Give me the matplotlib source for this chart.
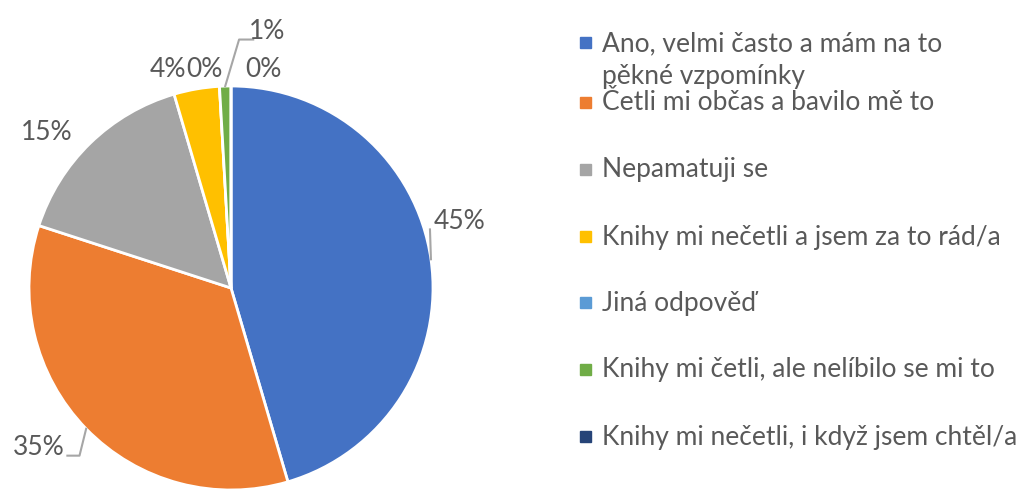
import numpy as np
import matplotlib.pyplot as plt
from matplotlib.patches import Rectangle

plt.rcParams['font.family'] = ['Lato', 'DejaVu Sans']

# data
kategorie = [
    "Ano, velmi často a mám na to\npěkné vzpomínky",
    "Četli mi občas a bavilo mě to",
    "Nepamatuji se",
    "Knihy mi nečetli a jsem za to rád/a",
    "Jiná odpověď",
    "Knihy mi četli, ale nelíbilo se mi to",
    "Knihy mi nečetli, i když jsem chtěl/a",
]
pocty = [50, 38, 17, 4, 0, 1, 0]
popisky = ["45%", "35%", "15%", "4%", "0%", "1%", "0%"]
barvy = ["#4472C4", "#ED7D31", "#A5A5A5", "#FFC000", "#5B9BD5", "#70AD47", "#264478"]

# layout of the labels (pie radius units)
pozice_popisku = [(1.13, 0.33), (-0.95, -0.79), (-0.91, 0.77), (-0.31, 1.08),
                  (-0.13, 1.08), (0.18, 1.27), (0.16, 1.08)]
vodici = {0: [(0.985, 0.29)], 1: [(-0.75, -0.83), (-0.81, -0.83)], 5: [(0.04, 1.23), (0.11, 1.23)]}

W, H = 1028, 490
cx, cy, R = 231, 288, 202
fs = 19
fig = plt.figure(figsize=(W / 100, H / 100), dpi=100)
ax = fig.add_axes([(cx - R) / W, (H - cy - R) / H, 2 * R / W, 2 * R / H])

wedges, _ = ax.pie(pocty, colors=barvy, startangle=90, counterclock=False,
                   wedgeprops=dict(edgecolor="white", linewidth=2))
ax.set_xlim(-1, 1)
ax.set_ylim(-1, 1)
ax.axis("off")

text_barva = "#595959"
celkem = sum(pocty)
kum = np.cumsum([0] + pocty)
for i, txt in enumerate(popisky):
    ux, uy = pozice_popisku[i]
    ax.text(ux, uy, txt, ha="center", va="center", fontsize=fs, color=text_barva, clip_on=False)
    if i in vodici:
        stred = (kum[i] + pocty[i] / 2) / celkem * 2 * np.pi
        body = [(np.sin(stred), np.cos(stred))] + vodici[i]
        xs, ys = zip(*body)
        ax.plot(xs, ys, color="#A6A6A6", linewidth=1.5, clip_on=False)

# legend
radky = [43, 103, 170, 237, 303, 370, 437]
for i, (nazev, b) in enumerate(zip(kategorie, barvy)):
    y = radky[i]
    fig.patches.append(Rectangle((580 / W, 1 - (y + 5) / H), 11 / W, 11 / H,
                                 transform=fig.transFigure, color=b, figure=fig))
    if "\n" in nazev:
        fig.text(602 / W, 1 - (y - 12) / H, nazev, ha="left", va="top",
                 fontsize=fs, color=text_barva, linespacing=1.4)
    else:
        fig.text(602 / W, 1 - y / H, nazev, ha="left", va="center",
                 fontsize=fs, color=text_barva)

fig.savefig("out.png", dpi=100)
